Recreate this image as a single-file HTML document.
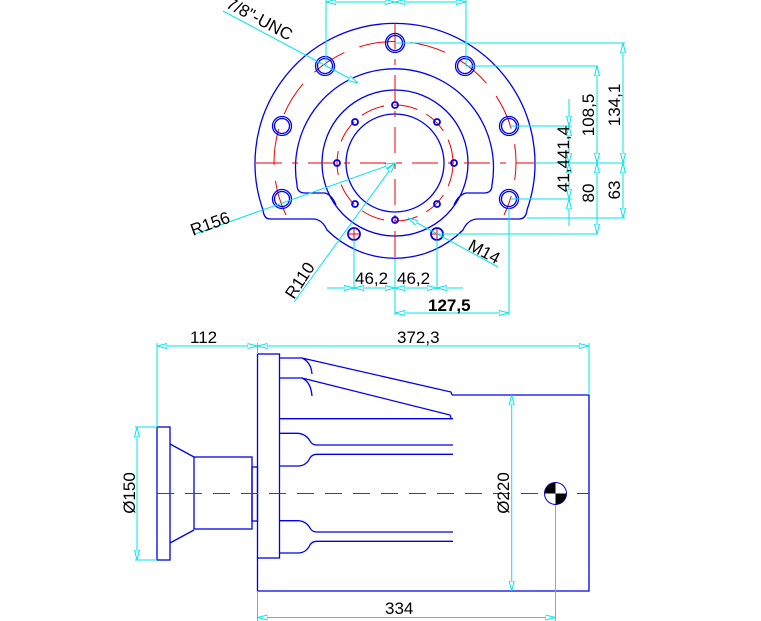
<!DOCTYPE html>
<html><head><meta charset="utf-8"><style>
html,body{margin:0;padding:0;background:#fff;}
svg{display:block;}
text{font-family:"Liberation Sans",sans-serif;font-size:17px;fill:#000;}
</style></head><body>
<svg width="761" height="621" viewBox="0 0 761 621" xmlns="http://www.w3.org/2000/svg">
<defs>
<marker id="a" viewBox="0 0 10 6" refX="10" refY="3" markerWidth="10" markerHeight="6" markerUnits="userSpaceOnUse" orient="auto-start-reverse">
<path d="M0,0.5 L10,3 L0,5.5 Z" fill="#fff" stroke="#00e5ee" stroke-width="1"/>
</marker>
</defs>
<!-- ===== TOP VIEW ===== -->
<g fill="none" stroke="#0000ee" stroke-width="1.3">
<path d="M313 219 L270 219 Q264 219 263 210 A140 140 0 1 1 527 210 Q526 219 519 219 L478 219 Q468 219 463 230 A96 96 0 0 1 327 230 Q322 219 313 219 Z"/>
<path d="M336 205 Q332 195 325 193 L305 193 Q297 193 297 185 A99 99 0 1 1 492 185 Q492 193 484 193 L466 193 Q458 195 454 205"/>
<circle cx="395" cy="163" r="73"/>
<circle cx="395" cy="163" r="49"/>
</g>
<g fill="none" stroke="#ee0000" stroke-width="1">
<path d="M286 215 A121 121 0 1 1 504 215" stroke-dasharray="36 16"/>
<circle cx="395" cy="163" r="58" stroke-dasharray="24 10"/>
<line x1="256" y1="163" x2="535" y2="163" stroke-dasharray="26 10 6 10"/>
<line x1="395" y1="23" x2="395" y2="262" stroke-dasharray="26 10 6 10"/>
</g>
<g fill="none" stroke="#0000ee" stroke-width="1.3">
<circle cx="395" cy="43" r="9.5"/><circle cx="395" cy="43" r="7.5"/>
<circle cx="325" cy="66" r="9.5"/><circle cx="325" cy="66" r="7.5"/>
<circle cx="465" cy="66" r="9.5"/><circle cx="465" cy="66" r="7.5"/>
<circle cx="282" cy="126" r="9.5"/><circle cx="282" cy="126" r="7.5"/>
<circle cx="509" cy="126" r="9.5"/><circle cx="509" cy="126" r="7.5"/>
<circle cx="282" cy="199" r="9.5"/><circle cx="282" cy="199" r="7.5"/>
<circle cx="509" cy="199" r="9.5"/><circle cx="509" cy="199" r="7.5"/>
<g stroke-width="1.8">
<circle cx="395" cy="105" r="3"/><circle cx="337" cy="163" r="3"/><circle cx="454" cy="163" r="3"/>
<circle cx="355" cy="122" r="3"/><circle cx="437" cy="122" r="3"/>
<circle cx="355" cy="204" r="3"/><circle cx="437" cy="204" r="3"/>
<circle cx="395" cy="220" r="3"/>
<circle cx="354" cy="234" r="6"/><circle cx="437" cy="234" r="6"/>
</g>
</g>
<g stroke="#ee0000" stroke-width="1">
<line x1="348" y1="234" x2="360" y2="234"/><line x1="354" y1="228" x2="354" y2="240"/>
<line x1="431" y1="234" x2="443" y2="234"/><line x1="437" y1="228" x2="437" y2="240"/>
</g>
<!-- top view dims -->
<g stroke="#00e5ee" stroke-width="1" fill="none">
<line x1="326" y1="0" x2="326" y2="66"/>
<line x1="466" y1="0" x2="466" y2="66"/>
<line x1="326" y1="2" x2="395" y2="2" marker-start="url(#a)" marker-end="url(#a)"/>
<line x1="395" y1="2" x2="466" y2="2" marker-start="url(#a)" marker-end="url(#a)"/>
<line x1="395" y1="43" x2="625" y2="43"/>
<line x1="466" y1="66" x2="598" y2="66"/>
<line x1="509" y1="126" x2="572" y2="126"/>
<line x1="535" y1="163" x2="625" y2="163"/>
<line x1="509" y1="199" x2="572" y2="199"/>
<line x1="527" y1="218" x2="625" y2="218"/>
<line x1="437" y1="234" x2="598" y2="234"/>
<line x1="569" y1="99" x2="569" y2="126" marker-end="url(#a)"/>
<line x1="569" y1="126" x2="569" y2="163" marker-start="url(#a)" marker-end="url(#a)"/>
<line x1="569" y1="163" x2="569" y2="199" marker-start="url(#a)" marker-end="url(#a)"/>
<line x1="569" y1="199" x2="569" y2="226" marker-start="url(#a)"/>
<line x1="597" y1="66" x2="597" y2="163" marker-start="url(#a)" marker-end="url(#a)"/>
<line x1="597" y1="163" x2="597" y2="234" marker-start="url(#a)" marker-end="url(#a)"/>
<line x1="623" y1="43" x2="623" y2="163" marker-start="url(#a)" marker-end="url(#a)"/>
<line x1="623" y1="163" x2="623" y2="218" marker-start="url(#a)" marker-end="url(#a)"/>
<line x1="354" y1="240" x2="354" y2="290"/>
<line x1="395" y1="259" x2="395" y2="315"/>
<line x1="437" y1="240" x2="437" y2="290"/>
<line x1="509" y1="208" x2="509" y2="315"/>
<line x1="327" y1="288" x2="354" y2="288" marker-end="url(#a)"/>
<line x1="354" y1="288" x2="395" y2="288" marker-start="url(#a)" marker-end="url(#a)"/>
<line x1="395" y1="288" x2="437" y2="288" marker-start="url(#a)" marker-end="url(#a)"/>
<line x1="437" y1="288" x2="463" y2="288" marker-start="url(#a)"/>
<line x1="395" y1="313" x2="509" y2="313" marker-start="url(#a)" marker-end="url(#a)"/>
<line x1="223" y1="11" x2="358" y2="83" marker-end="url(#a)"/>
<line x1="195" y1="234" x2="395" y2="163" marker-end="url(#a)"/>
<line x1="294" y1="302" x2="395" y2="163" marker-end="url(#a)"/>
<line x1="498" y1="267" x2="408" y2="218" marker-end="url(#a)"/>
</g>
<text x="355" y="284">46,2</text>
<text x="397" y="284">46,2</text>
<text x="428" y="311" style="font-weight:bold">127,5</text>
<text transform="translate(225,7) rotate(28)">7/8"-UNC</text>
<text transform="translate(193,236) rotate(-20)">R156</text>
<text transform="translate(294,300) rotate(-57)">R110</text>
<text transform="translate(467,249) rotate(28)">M14</text>
<text transform="translate(594,115) rotate(-90)" text-anchor="middle">108,5</text>
<text transform="translate(620,105) rotate(-90)" text-anchor="middle">134,1</text>
<text transform="translate(569,159) rotate(-90)" text-anchor="middle">41,441,4</text>
<text transform="translate(594,193) rotate(-90)" text-anchor="middle">80</text>
<text transform="translate(620,190) rotate(-90)" text-anchor="middle">63</text>
<!-- ===== SIDE VIEW ===== -->
<g fill="none" stroke="#0000ee" stroke-width="1.3">
<rect x="157" y="427" width="13" height="133"/>
<path d="M170 444 L194 457 M170 543 L194 530"/>
<rect x="194" y="457" width="58" height="72"/>
<rect x="252" y="467" width="5.5" height="54"/>
<rect x="257.5" y="354" width="22" height="204"/>
<path d="M452 395 L589 395 L589 591 L257.5 591 L257.5 558"/>
<path d="M279.5 358 L302 358 L451 392 L452 395 M302 358 Q311 362 312 374"/>
<path d="M279.5 378 L302 378 L450 415 L451 418 M302 378 Q311 382 312 396"/>
<path d="M280 418.7 L453 418.7"/>
<path d="M279.5 433.3 L298 433.3 Q306 434 310 441 Q312 445 317 445 L453 445"/>
<path d="M453 454.3 L317 454.3 Q312 454.3 310 458 Q306 466 298 466 L279.5 466"/>
<path d="M279.5 520.7 L298 520.7 Q306 521 310 528 Q312 532 317 532 L453 532"/>
<path d="M453 541.3 L317 541.3 Q312 541.3 310 545 Q306 553 298 553 L279.5 553"/>
</g>
<line x1="157" y1="493.5" x2="589" y2="493.5" stroke="#ee0000" stroke-width="1" stroke-dasharray="17 11"/>
<g stroke="#00e5ee" stroke-width="1" fill="none">
<line x1="157" y1="343" x2="157" y2="427"/>
<line x1="257.5" y1="343" x2="257.5" y2="354"/>
<line x1="589" y1="343" x2="589" y2="395"/>
<line x1="157" y1="346" x2="257.5" y2="346" marker-start="url(#a)" marker-end="url(#a)"/>
<line x1="257.5" y1="346" x2="589" y2="346" marker-start="url(#a)" marker-end="url(#a)"/>
<line x1="135" y1="427" x2="157" y2="427"/>
<line x1="135" y1="560" x2="157" y2="560"/>
<line x1="137" y1="427" x2="137" y2="560" marker-start="url(#a)" marker-end="url(#a)"/>
<line x1="511.7" y1="395" x2="511.7" y2="591" marker-start="url(#a)" marker-end="url(#a)"/>
<line x1="257.5" y1="591" x2="257.5" y2="621"/>
<line x1="555.5" y1="504" x2="555.5" y2="621"/>
<line x1="257.5" y1="617.5" x2="555.5" y2="617.5" marker-start="url(#a)" marker-end="url(#a)"/>
</g>
<circle cx="555.5" cy="493.5" r="11" fill="#fff" stroke="#0000ee" stroke-width="1"/>
<path d="M555.5 493.5 L544.5 493.5 A11 11 0 0 1 555.5 482.5 Z" fill="#000"/>
<path d="M555.5 493.5 L566.5 493.5 A11 11 0 0 1 555.5 504.5 Z" fill="#000"/>
<text x="190" y="343">112</text>
<text x="397" y="343">372,3</text>
<text x="385" y="614">334</text>
<text transform="translate(135,493) rotate(-90)" text-anchor="middle">Ø150</text>
<text transform="translate(509,493) rotate(-90)" text-anchor="middle">Ø220</text>
</svg>
</body></html>
